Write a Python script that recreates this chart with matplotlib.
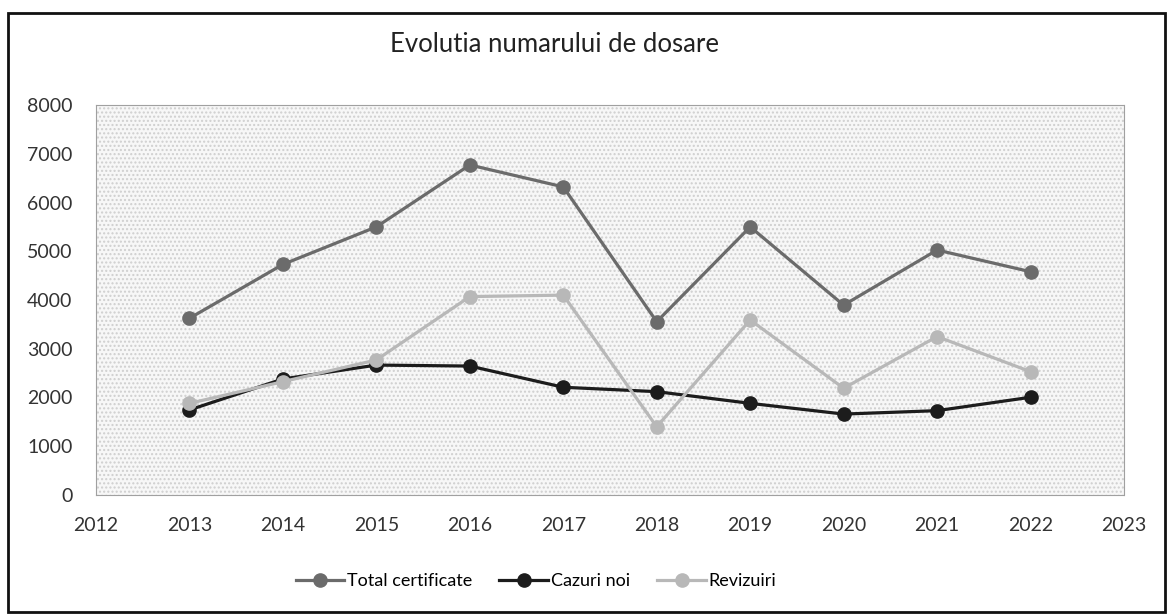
import matplotlib
matplotlib.use("Agg")
import matplotlib.pyplot as plt
from matplotlib.patches import Rectangle

plt.rcParams['font.family'] = ['Lato', 'DejaVu Sans']

years = [2013, 2014, 2015, 2016, 2017, 2018, 2019, 2020, 2021, 2022]
total_certificate = [3625, 4730, 5500, 6770, 6320, 3555, 5500, 3895, 5025, 4580]
cazuri_noi = [1745, 2380, 2665, 2645, 2210, 2120, 1880, 1660, 1730, 2005]
revizuiri = [1880, 2325, 2770, 4070, 4100, 1400, 3590, 2190, 3250, 2530]

series_names = ["Total certificate", "Cazuri noi", "Revizuiri"]
series_colors = ["#6b6b6b", "#1c1c1c", "#b8b8b8"]
x_ticks = list(range(2012, 2024))
y_ticks = list(range(0, 8001, 1000))

fig = plt.figure(figsize=(11.67, 6.14), dpi=100)
ax = fig.add_axes([96 / 1167, 1 - 495 / 614, (1124 - 96) / 1167, (495 - 105) / 614])

# fond punctat al zonei de desen
ax.set_facecolor("#f7f7f7")
ax.add_patch(Rectangle((0, 0), 1, 1, transform=ax.transAxes, facecolor="none",
                       edgecolor="#cfcfcf", hatch="....", linewidth=0, zorder=0))

for vals, name, col in zip([total_certificate, cazuri_noi, revizuiri], series_names, series_colors):
    ax.plot(years, vals, color=col, linewidth=2.3, marker="o", markersize=9.5,
            markerfacecolor=col, markeredgecolor=col, label=name, zorder=3)

ax.set_xlim(2012, 2023)
ax.set_ylim(0, 8000)
ax.set_xticks(x_ticks)
ax.set_yticks(y_ticks)
ax.tick_params(axis="both", length=0, labelsize=14, colors="#333333")
ax.tick_params(axis="y", pad=17)
ax.tick_params(axis="x", pad=16)
for s in ax.spines.values():
    s.set_color("#a0a0a0")
    s.set_linewidth(0.8)
    s.set_linestyle((0, (1, 1)))

fig.text(554 / 1167, 1 - 45 / 614, "Evolutia numarului de dosare", ha="center", va="center",
         fontsize=18.5, color="#222222")

fig.legend(loc="center", bbox_to_anchor=(536 / 1167, 1 - 581 / 614), ncol=3, frameon=False,
           fontsize=13, handlelength=2.7, handletextpad=0.15, columnspacing=1.5)

# chenarul graficului
fig.patches.append(Rectangle((8 / 1167, 0.003), 1 - 8 / 1167 - 0.002, 1 - 13 / 614 - 0.003,
                             transform=fig.transFigure, fill=False, edgecolor="#111111",
                             linewidth=2))

fig.savefig("out.png", dpi=100)
